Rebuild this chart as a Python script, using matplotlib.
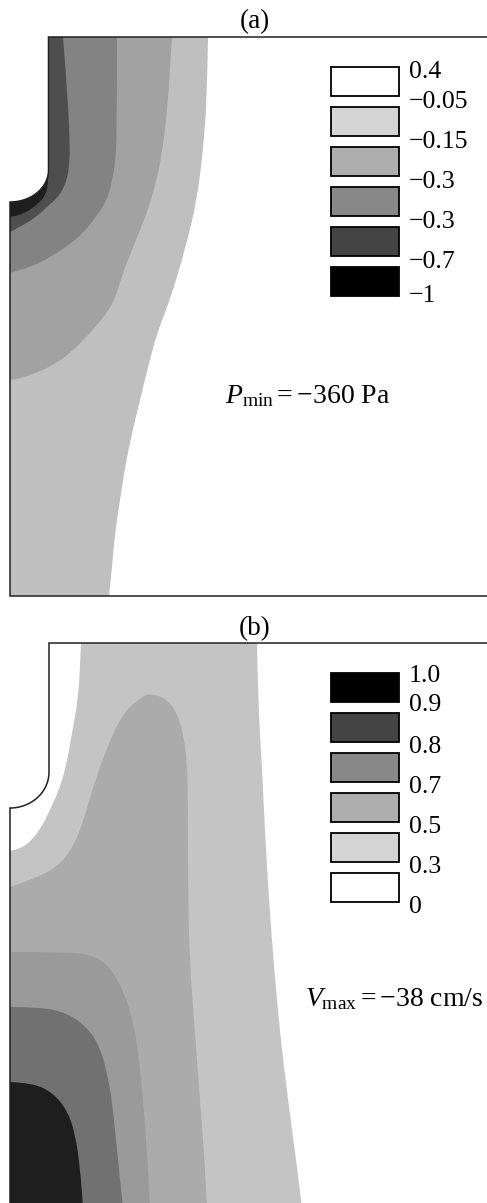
import numpy as np
import matplotlib
matplotlib.use("Agg")
import matplotlib.pyplot as plt
from matplotlib.path import Path
from matplotlib.patches import PathPatch, Rectangle

plt.rcParams['font.family'] = ['Liberation Serif', 'DejaVu Serif']
plt.rcParams['mathtext.fontset'] = 'custom'
plt.rcParams['mathtext.rm'] = 'Liberation Serif'
plt.rcParams['mathtext.it'] = 'Liberation Serif:italic'

# ---------------- data: panel (a) pressure contours (x, depth z) ----------------
a_labels = ['0.4', '\u22120.05', '\u22120.15', '\u22120.3', '\u22120.3', '\u22120.7', '\u22121']
a_legend_colors = ['#ffffff', '#d4d4d4', '#aeaeae', '#888888', '#444444', '#000000']

a_x_005 = [19.8, 19.7, 19.3, 18.7, 17.5, 16.0, 14.7, 13.8, 13.0, 12.2, 11.5, 11.0, 10.5, 10.2, 9.9]
a_z_005 = [0.0, 6.3, 11.3, 16.3, 21.3, 26.3, 29.6, 33.0, 36.3, 39.6, 43.0, 46.3, 49.6, 53.0, 55.9]

a_x_015 = [16.2, 16.0, 15.8, 15.3, 14.2, 12.2, 11.2, 10.5, 9.3, 8.0, 6.2, 4.0, 2.5, 1.2, 0.0]
a_z_015 = [0.0, 3.3, 6.3, 11.3, 16.3, 21.3, 23.8, 26.3, 28.1, 29.6, 31.5, 33.0, 33.6, 34.1, 34.3]

a_x_03 = [10.7, 10.7, 10.5, 10.1, 9.7, 8.6, 7.3, 6.0, 4.7, 3.3, 2.0, 0.0]
a_z_03 = [0.0, 9.6, 13.0, 14.8, 16.3, 18.0, 19.6, 20.7, 21.6, 22.4, 23.0, 23.6]

a_x_07 = [5.3, 5.8, 6.0, 5.9, 5.8, 5.3, 4.6, 3.7, 2.7, 1.7, 0.0]
a_z_07 = [0.0, 6.3, 11.3, 12.8, 13.8, 15.3, 16.2, 17.0, 17.9, 18.6, 19.5]

a_x_1 = [3.85, 3.8, 3.7, 3.4, 3.0, 2.0, 1.0, 0.0]
a_z_1 = [13.6, 14.5, 15.3, 16.0, 16.5, 17.3, 17.8, 18.0]

a_fill_colors = ['#bfbfbf', '#a2a2a2', '#838383', '#4e4e4e', '#1e1e1e']

# ---------------- data: panel (b) velocity contours ----------------
b_labels = ['1.0', '0.9', '0.8', '0.7', '0.5', '0.3', '0']
b_legend_colors = ['#000000', '#444444', '#888888', '#aeaeae', '#d4d4d4', '#ffffff']

b_x_03r = [24.7, 24.8, 25.2, 25.5, 25.9, 26.4, 27.0, 27.8, 28.7, 29.2]
b_z_03r = [0.0, 5.7, 12.4, 19.0, 25.7, 32.4, 39.0, 45.7, 52.4, 56.5]

b_x_03n = [7.1, 7.0, 6.8, 6.2, 5.6, 4.9, 4.0, 3.0, 1.7, 0.5, 0.0]
b_z_03n = [0.0, 2.4, 5.7, 9.0, 12.4, 14.7, 16.7, 18.7, 20.2, 20.7, 20.8]

b_x_05 = [0.0, 2.7, 5.3, 7.0, 8.3, 9.7, 11.3, 13.0, 14.0, 15.7, 16.7, 17.3, 17.7, 17.8, 17.8, 18.0, 18.5, 19.0, 19.5, 19.7]
b_z_05 = [24.4, 23.5, 22.0, 19.0, 14.4, 10.4, 7.0, 5.5, 5.0, 5.6, 7.0, 9.0, 11.7, 15.7, 25.7, 32.4, 39.0, 45.7, 52.4, 56.5]

b_x_07 = [0.0, 5.7, 8.3, 10.0, 11.3, 12.2, 12.8, 13.3, 13.7, 14.0]
b_z_07 = [30.9, 30.9, 31.2, 32.4, 34.7, 37.4, 40.7, 45.7, 50.7, 56.5]

b_x_08 = [0.0, 3.0, 5.7, 7.7, 9.0, 9.7, 10.2, 10.7, 11.3]
b_z_08 = [36.4, 36.4, 37.0, 38.4, 40.4, 43.0, 45.7, 50.7, 56.5]

b_x_09 = [0.0, 2.3, 4.3, 5.7, 6.5, 7.0, 7.3]
b_z_09 = [43.9, 44.0, 45.0, 46.7, 49.0, 52.4, 56.5]

b_fill_colors = ['#c4c4c4', '#ffffff', '#ababab', '#9a9a9a', '#717171', '#1e1e1e']

# ---------------- helpers ----------------
def region_path(xs, zs, zmax):
    pts = list(zip(xs, zs))
    start_top = zs[0] <= 0
    pre = (xs[0], -5) if start_top else (-5, zs[0])
    verts = [pre, pts[0]]
    codes = [Path.MOVETO, Path.LINETO]
    for i in range(1, len(pts) - 1):
        mid = ((pts[i][0] + pts[i + 1][0]) / 2, (pts[i][1] + pts[i + 1][1]) / 2)
        verts += [pts[i], mid]
        codes += [Path.CURVE3, Path.CURVE3]
    verts.append(pts[-1])
    codes.append(Path.LINETO)
    if zs[-1] >= zmax - 0.2:
        post = [(xs[-1], zmax + 5), (-5, zmax + 5)]
    else:
        post = [(-5, zs[-1])]
    if start_top:
        post.append((-5, -5))
    for p in post:
        verts.append(p)
        codes.append(Path.LINETO)
    verts.append(pre)
    codes.append(Path.CLOSEPOLY)
    return Path(verts, codes)


def geometry(notch_x, z_s, z_e, xmax, zmax):
    t = np.linspace(0, np.pi / 2, 60)
    arc = list(zip(notch_x * np.cos(t), z_s + (z_e - z_s) * np.sin(t)))
    dom = [(notch_x, 0), (xmax, 0), (xmax, zmax), (0, zmax), (0, z_e)] + arc[::-1]
    outline = [(xmax, 0), (notch_x, 0), (notch_x, z_s)] + arc + [(0, z_e), (0, zmax)]
    return dom, outline


def draw_panel(ax, curves, colors, dom, outline, zmax, bottom_line, xmax):
    clip = PathPatch(Path(dom, closed=True), facecolor='white', edgecolor='none')
    ax.add_patch(clip)
    for (xs, zs), c in zip(curves, colors):
        p = PathPatch(region_path(xs, zs, zmax), facecolor=c, edgecolor='none')
        ax.add_patch(p)
        p.set_clip_path(clip)
    ox = [p[0] for p in outline]
    oz = [p[1] for p in outline]
    if bottom_line:
        ox.append(xmax)
        oz.append(zmax)
    ax.plot(ox, oz, color='#222222', lw=1.1, solid_joinstyle='miter')


def draw_legend(ax, colors, labels, label_z):
    for k, c in enumerate(colors):
        ax.add_patch(Rectangle((32.1, 3.0 + 4.0 * k), 6.8, 2.9, facecolor=c,
                               edgecolor='black', lw=1.3))
    for lab, z in zip(labels, label_z):
        ax.text(39.85, z, lab, fontsize=18.5, va='center', ha='left')


W, H = 487, 1203
fig = plt.figure(figsize=(W / 100, H / 100), dpi=100)
XMAX = 47.9

# panel (a)
axa = fig.add_axes([0, (H - 600) / H, 1, 570 / H])
axa.set_xlim(-1.0, 47.7)
axa.set_ylim(56.3, -0.7)
axa.set_axis_off()
za_max = 55.9
dom_a, out_a = geometry(3.85, 13.3, 16.5, XMAX, za_max)
draw_panel(axa, [(a_x_005, a_z_005), (a_x_015, a_z_015), (a_x_03, a_z_03),
                 (a_x_07, a_z_07), (a_x_1, a_z_1)],
           a_fill_colors, dom_a, out_a, za_max, True, XMAX)
draw_legend(axa, a_legend_colors, a_labels, [3.5, 6.5, 10.5, 14.5, 18.5, 22.5, 25.9])
axa.text(21.5, 35.95, r'$P_{\mathrm{min}} = -360\ \mathrm{Pa}$', fontsize=20,
         va='center', ha='left')

# panel (b)
axb = fig.add_axes([0, 0, 1, 567 / H])
axb.set_xlim(-1.0, 47.7)
axb.set_ylim(56.0, -0.7)
axb.set_axis_off()
zb_max = 60.0
dom_b, out_b = geometry(3.9, 12.9, 16.5, XMAX, zb_max)
draw_panel(axb, [(b_x_03r, b_z_03r), (b_x_03n, b_z_03n), (b_x_05, b_z_05),
                 (b_x_07, b_z_07), (b_x_08, b_z_08), (b_x_09, b_z_09)],
           b_fill_colors, dom_b, out_b, 56.5, False, XMAX)
draw_legend(axb, b_legend_colors, b_labels, [3.3, 6.2, 10.4, 14.4, 18.4, 22.4, 26.4])
axb.text(29.5, 35.6, r'$V_{\mathrm{max}} = -38\ \mathrm{cm/s}$', fontsize=20,
         va='center', ha='left')

fig.text(255 / W, 1 - 22 / H, '(a)', fontsize=19.5, ha='center', va='center')
fig.text(255 / W, 1 - 629 / H, '(b)', fontsize=19.5, ha='center', va='center')

fig.savefig('out.png', dpi=100)
